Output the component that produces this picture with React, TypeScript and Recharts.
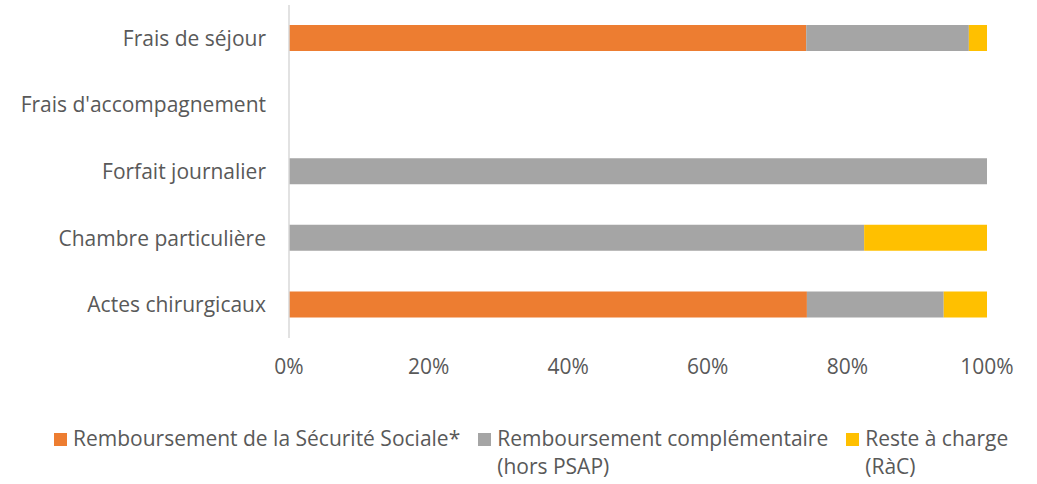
import { BarChart, Bar, XAxis, YAxis, Legend } from "recharts";

const categories = [
  "Frais de séjour",
  "Frais d'accompagnement",
  "Forfait journalier",
  "Chambre particulière",
  "Actes chirurgicaux",
];
const secu = [74.1, 0, 0, 0, 74.2];
const complementaire = [23.3, 0, 100, 82.4, 19.6];
const resteACharge = [2.6, 0, 0, 17.6, 6.2];
const xTicks = [0, 20, 40, 60, 80, 100];

const seriesNames = [
  "Remboursement de la Sécurité Sociale*",
  "Remboursement complémentaire\n(hors PSAP)",
  "Reste à charge\n(RàC)",
];
const seriesColors = ["#ED7D31", "#A5A5A5", "#FFC000"];

const data = categories.map((name, i) => ({
  name,
  secu: secu[i],
  comp: complementaire[i],
  rac: resteACharge[i],
}));

const font = "'Open Sans', 'Noto Sans', sans-serif";

const ChartLegend = () => (
  <div
    style={{
      height: 96,
      display: "flex",
      alignItems: "flex-start",
      paddingLeft: 54,
      paddingTop: 36,
      boxSizing: "border-box",
      fontFamily: font,
      fontSize: 21,
      color: "#595959",
      lineHeight: "28px",
    }}
  >
    {seriesNames.map((n, i) => (
      <div key={n} style={{ display: "flex", alignItems: "flex-start", marginRight: 18 }}>
        <div
          style={{
            width: 13,
            height: 13,
            background: seriesColors[i],
            marginTop: 9,
            marginRight: 6,
            flexShrink: 0,
          }}
        />
        <div style={{ whiteSpace: "pre-line" }}>{n}</div>
      </div>
    ))}
  </div>
);

export default function App() {
  return (
    <div style={{ position: "absolute", left: 0, top: 0, width: 1037, height: 484, background: "#fff" }}>
      <BarChart
        width={1037}
        height={484}
        data={data}
        layout="vertical"
        margin={{ top: 5, right: 50, bottom: 0, left: 0 }}
        barSize={26}
      >
        <XAxis
          type="number"
          domain={[0, 100]}
          ticks={xTicks}
          tickFormatter={(v) => `${v}%`}
          axisLine={false}
          tickLine={false}
          tickSize={0}
          tickMargin={21}
          height={50}
          tick={{ fill: "#595959", fontSize: 21, fontFamily: font }}
        />
        <YAxis
          type="category"
          dataKey="name"
          width={289}
          axisLine={{ stroke: "#d9d9d9", strokeWidth: 1.5 }}
          tickLine={false}
          tickSize={0}
          tickMargin={23}
          tick={{ fill: "#595959", fontSize: 21, fontFamily: font }}
        />
        <Legend
          verticalAlign="bottom"
          align="left"
          wrapperStyle={{ left: 0, width: 1037 }}
          content={() => <ChartLegend />}
        />
        <Bar dataKey="secu" stackId="a" fill={seriesColors[0]} isAnimationActive={false} />
        <Bar dataKey="comp" stackId="a" fill={seriesColors[1]} isAnimationActive={false} />
        <Bar dataKey="rac" stackId="a" fill={seriesColors[2]} isAnimationActive={false} />
      </BarChart>
    </div>
  );
}
